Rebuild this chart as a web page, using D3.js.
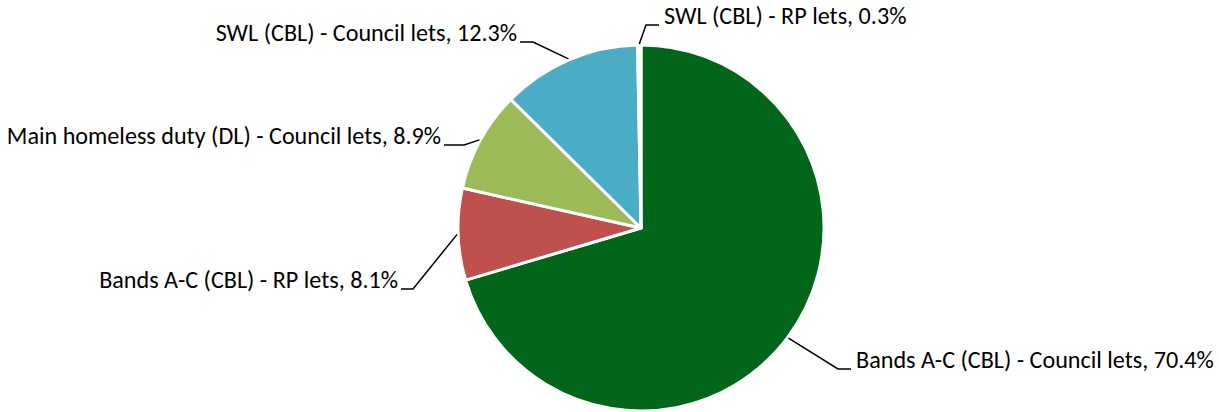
<!DOCTYPE html>
<html>
<head>
<meta charset="utf-8">
<script src="https://cdn.jsdelivr.net/npm/d3@7"></script>
<style>
body { margin: 0; background: white; }
text { font-family: "Carlito", "Open Sans", sans-serif; fill: #000; }
</style>
</head>
<body>
<svg id="chart" width="1219" height="412"></svg>
<script>
var categories = [
	"Bands A-C (CBL) - Council lets",
	"Bands A-C (CBL) - RP lets",
	"Main homeless duty (DL) - Council lets",
	"SWL (CBL) - Council lets",
	"SWL (CBL) - RP lets"
]
var values = [70.4, 8.1, 8.9, 12.3, 0.3]
// the 0.3% sliver is hidden by the white borders in the reference
var colors = ["#016619", "#c0504d", "#9bbb59", "#4bacc6", "#ffffff"]

// where each label sits: elbow of the leader line, and which side the text goes
var labelLayout = [
	{elbow: [838, 369], end: [851, 369], side: "right"},
	{elbow: [413, 289], end: [401, 289], side: "left"},
	{elbow: [464, 145], end: [444, 145], side: "left"},
	{elbow: [533, 42], end: [520, 42], side: "left"},
	{elbow: [646, 25], end: [659, 25], side: "right"}
]

var svg = d3.select("#chart")
var cx = 641, cy = 228, r = 183

var data = values.map(function(v, i){
	return {name: categories[i], value: v, color: colors[i], layout: labelLayout[i]}
})

var pie = d3.pie().sort(null).value(function(d){ return d.value })
var arc = d3.arc().innerRadius(0).outerRadius(r)

var g = svg.append("g").attr("transform", "translate(" + cx + "," + cy + ")")

var arcs = pie(data)

g.selectAll("path")
	.data(arcs)
	.enter()
	.append("path")
	.attr("d", arc)
	.style("fill", function(d){ return d.data.color })
	.style("stroke", "white")
	.style("stroke-width", 3)
	.style("stroke-linejoin", "round")

// leader lines start on the rim at the middle angle of each slice
svg.selectAll("polyline")
	.data(arcs)
	.enter()
	.append("polyline")
	.attr("points", function(d){
		var a = (d.startAngle + d.endAngle) / 2
		var sx = cx + Math.sin(a) * (r + 1)
		var sy = cy - Math.cos(a) * (r + 1)
		var L = d.data.layout
		return [[sx, sy], L.elbow, L.end].map(function(p){ return p.join(",") }).join(" ")
	})
	.style("fill", "none")
	.style("stroke", "black")
	.style("stroke-width", 1.5)

var labels = svg.selectAll("text.lbl")
	.data(arcs)
	.enter()
	.append("text")
	.attr("class", "lbl")
	.attr("x", function(d){
		var L = d.data.layout
		return L.side == "right" ? L.end[0] + 5 : L.end[0] - 3
	})
	.attr("y", function(d){ return d.data.layout.end[1] - 1 })
	.attr("text-anchor", function(d){ return d.data.layout.side == "right" ? "start" : "end" })
	.style("font-size", "18px")
	.text(function(d){ return d.data.name + ", " + d.data.value.toFixed(1) + "%" })

// fit font size to the reference label width
var w = labels.filter(function(d, i){ return i == 0 }).node().getComputedTextLength()
labels.style("font-size", (18 * 358 / w) + "px")
</script>
</body>
</html>
